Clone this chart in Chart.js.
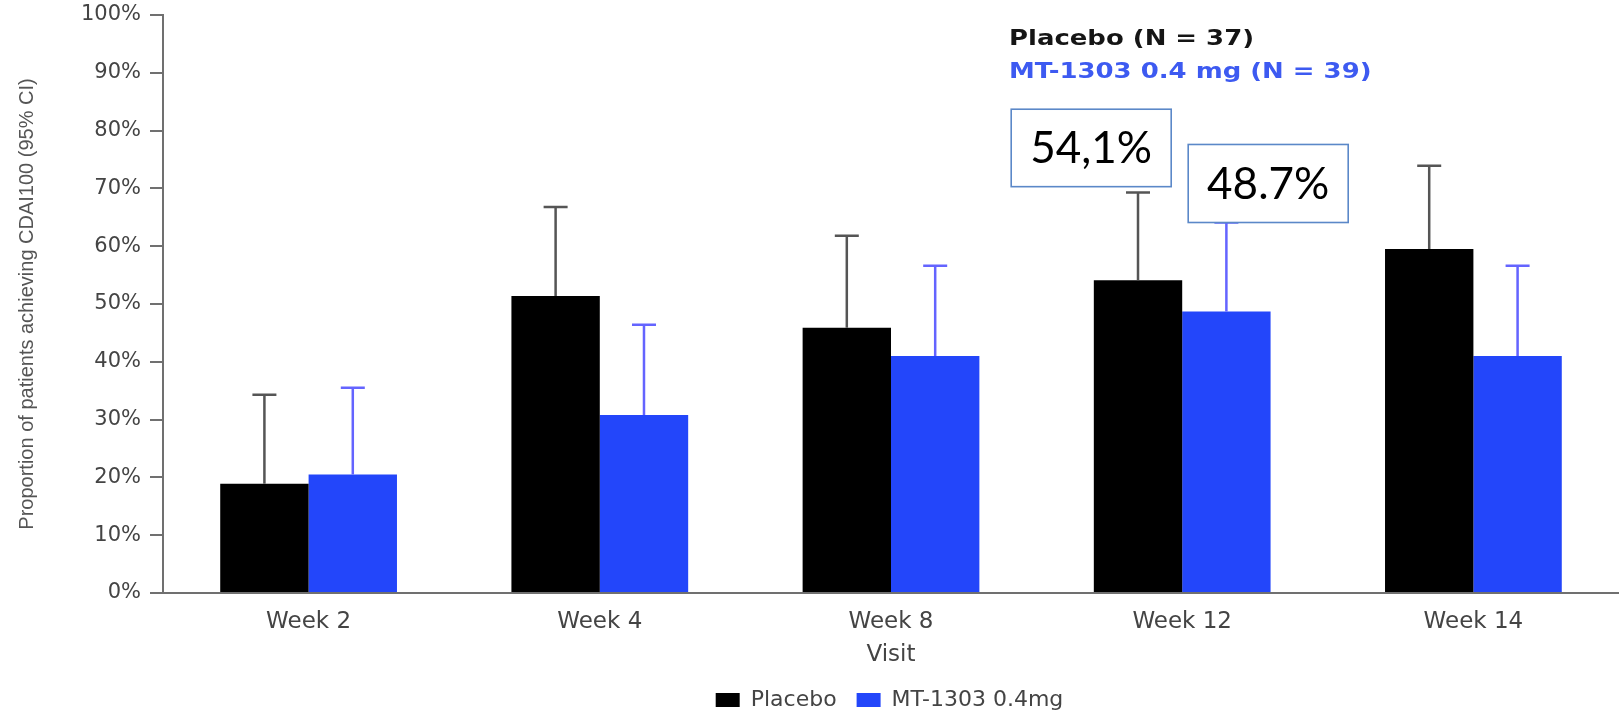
<!DOCTYPE html>
<html>
<head>
<meta charset="utf-8">
<script src="https://cdn.jsdelivr.net/npm/chart.js@4.4.1/dist/chart.umd.min.js"></script>
<style>
  html, body { margin: 0; padding: 0; background: #ffffff; }
  #wrap { position: relative; width: 1619px; height: 712px; }
</style>
</head>
<body>
<div id="wrap"><canvas id="cdai-chart"></canvas></div>
<script>
const VISITS = ["Week 2", "Week 4", "Week 8", "Week 12", "Week 14"];
const PLACEBO_PCT = [18.9, 51.4, 45.9, 54.1, 59.5];
const MT1303_PCT = [20.5, 30.8, 41.0, 48.7, 41.0];
const PLACEBO_UPPER_CI = [34.3, 66.8, 61.8, 69.3, 73.9];
const MT1303_UPPER_CI = [35.5, 46.4, 56.6, 64.1, 56.6];
const Y_TICKS = [0, 10, 20, 30, 40, 50, 60, 70, 80, 90, 100];

const SERIES_NAMES = ["Placebo", "MT-1303 0.4mg"];
const HEADER_LINES = ["Placebo (N = 37)", "MT-1303 0.4 mg (N = 39)"];
const CALLOUT_LABELS = ["54,1%", "48.7%"];

const PLACEBO_COLOR = "#000000";
const MT1303_COLOR = "#2346fa";
const AXIS_COLOR = "#707070";
const TEXT_COLOR = "#444444";

// upper whiskers of the 95% CI, one per bar
const errorBarPlugin = {
  id: "errorBars",
  afterDatasetsDraw(chart) {
    const ctx = chart.ctx;
    const yScale = chart.scales.y;
    const uppers = [PLACEBO_UPPER_CI, MT1303_UPPER_CI];
    const colors = ["#555555", "#6464ff"];

    chart.data.datasets.forEach(function (ds, di) {
      const meta = chart.getDatasetMeta(di);
      meta.data.forEach(function (bar, i) {
        const yTop = yScale.getPixelForValue(uppers[di][i]);
        ctx.save();
        ctx.strokeStyle = colors[di];
        ctx.lineWidth = 2.5;
        ctx.beginPath();
        ctx.moveTo(bar.x, bar.y);
        ctx.lineTo(bar.x, yTop);
        ctx.moveTo(bar.x - 12, yTop);
        ctx.lineTo(bar.x + 12, yTop);
        ctx.stroke();
        ctx.restore();
      });
    });
  },
};

// N header and the two value callouts over week 12
const annotationPlugin = {
  id: "annotations",
  afterDraw(chart) {
    const ctx = chart.ctx;
    const xScale = chart.scales.x;
    const yScale = chart.scales.y;
    const week12 = xScale.getPixelForValue(3);

    ctx.save();
    ctx.textBaseline = "alphabetic";
    ctx.textAlign = "left";
    ctx.font = "bold 21px 'DejaVu Sans'";
    const headerColors = ["#151515", "#3d5af1"];
    const headerY = [45, 78];
    HEADER_LINES.forEach(function (line, i) {
      ctx.save();
      ctx.translate(1009, headerY[i]);
      ctx.scale(1.235, 1);
      ctx.fillStyle = headerColors[i];
      ctx.fillText(line, 0, 0);
      ctx.restore();
    });

    const boxes = [
      { dx: -91, top: 83.7, bottom: 70.3 },
      { dx: 86, top: 77.6, bottom: 64.1 },
    ];
    boxes.forEach(function (b, i) {
      const cx = week12 + b.dx;
      const y1 = yScale.getPixelForValue(b.top);
      const y2 = yScale.getPixelForValue(b.bottom);
      ctx.fillStyle = "#ffffff";
      ctx.fillRect(cx - 80, y1, 160, y2 - y1);
      ctx.strokeStyle = "#5b88c8";
      ctx.lineWidth = 1.6;
      ctx.strokeRect(cx - 80, y1, 160, y2 - y1);
      ctx.fillStyle = "#000000";
      ctx.font = "44px Lato";
      ctx.textAlign = "center";
      ctx.textBaseline = "middle";
      ctx.fillText(CALLOUT_LABELS[i], cx, (y1 + y2) / 2 + 1);
    });
    ctx.restore();
  },
};

// legend sits under the plot area, not under the whole canvas
const legendNudgePlugin = {
  id: "legendNudge",
  afterLayout(chart) {
    if (chart.legend) {
      chart.legend.left += 80;
      chart.legend.right += 80;
    }
  },
};

function createCdaiChart() {
  const canvas = document.getElementById("cdai-chart");
  const context = canvas.getContext("2d");

  new Chart(context, {
    type: "bar",
    data: {
      labels: VISITS,
      datasets: [
        {
          label: SERIES_NAMES[0],
          data: PLACEBO_PCT,
          backgroundColor: PLACEBO_COLOR,
          borderWidth: 0,
          barPercentage: 1.0,
          categoryPercentage: 0.607,
        },
        {
          label: SERIES_NAMES[1],
          data: MT1303_PCT,
          backgroundColor: MT1303_COLOR,
          borderWidth: 0,
          barPercentage: 1.0,
          categoryPercentage: 0.607,
        },
      ],
    },
    options: {
      responsive: true,
      maintainAspectRatio: false,
      animation: false,
      layout: {
        padding: { top: 15, right: 0, bottom: 0, left: 0 },
      },
      plugins: {
        tooltip: { enabled: false },
        legend: {
          position: "bottom",
          maxHeight: 43,
          labels: {
            boxWidth: 24,
            boxHeight: 14,
            padding: 20,
            color: TEXT_COLOR,
            font: { family: "'DejaVu Sans'", size: 22 },
          },
        },
      },
      scales: {
        x: {
          grid: { display: false },
          border: { display: true, color: AXIS_COLOR, width: 2 },
          ticks: {
            padding: 7,
            color: TEXT_COLOR,
            font: { family: "'DejaVu Sans'", size: 23 },
            maxRotation: 0,
          },
          title: {
            display: true,
            text: "Visit",
            color: TEXT_COLOR,
            padding: { top: 0, bottom: 0 },
            font: { family: "'DejaVu Sans'", size: 23 },
          },
          afterFit: function (scale) {
            scale.height = 76;
          },
        },
        y: {
          min: 0,
          max: 100,
          afterBuildTicks: function (scale) {
            scale.ticks = Y_TICKS.map(function (v) {
              return { value: v };
            });
          },
          grid: {
            drawOnChartArea: false,
            drawTicks: true,
            tickLength: 13,
            color: AXIS_COLOR,
            lineWidth: 2,
          },
          border: { display: true, color: AXIS_COLOR, width: 2 },
          ticks: {
            padding: 9,
            color: TEXT_COLOR,
            font: { family: "'DejaVu Sans'", size: 21 },
            callback: function (value) {
              return value + "%";
            },
          },
          title: {
            display: true,
            text: "Proportion of patients achieving CDAI100 (95% CI)",
            color: "#555555",
            padding: { top: 15, bottom: 0 },
            font: { family: "'Liberation Sans'", size: 20 },
          },
          afterFit: function (scale) {
            scale.width = 163;
            scale.paddingTop = 0;
            scale.paddingBottom = 0;
          },
        },
      },
    },
    plugins: [errorBarPlugin, annotationPlugin, legendNudgePlugin],
  });
}

window.addEventListener("DOMContentLoaded", createCdaiChart);
</script>
</body>
</html>
